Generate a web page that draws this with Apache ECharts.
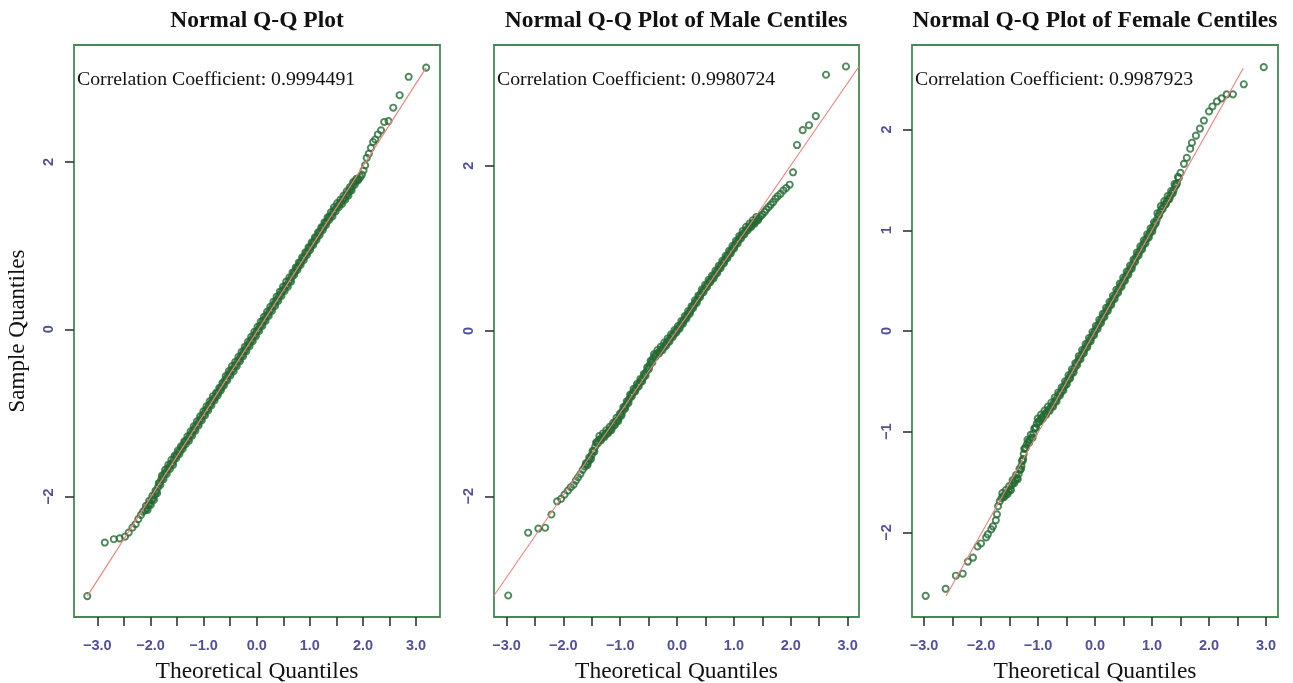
<!DOCTYPE html>
<html><head><meta charset="utf-8">
<script src="https://cdn.jsdelivr.net/npm/echarts@6/dist/echarts.min.js"></script>
<style>html,body{margin:0;padding:0;background:#fff}#c{width:1293px;height:683px}</style>
</head><body><div id="c"></div>
<script>
const panelTitles = ['Normal Q-Q Plot', 'Normal Q-Q Plot of Male Centiles', 'Normal Q-Q Plot of Female Centiles'];
const corrLabels = ['Correlation Coefficient: 0.9994491', 'Correlation Coefficient: 0.9980724', 'Correlation Coefficient: 0.9987923'];
const xTickValues = [-3, -2.5, -2, -1.5, -1, -0.5, 0, 0.5, 1, 1.5, 2, 2.5, 3];
const xLabelValues = [-3, -2, -1, 0, 1, 2, 3];
const yLabelValues1 = [-2, 0, 2];
const yLabelValues2 = [-2, 0, 2];
const yLabelValues3 = [-2, -1, 0, 1, 2];
const xName = 'Theoretical Quantiles';
const yName = 'Sample Quantiles';

// Panel 1: all centiles (theoretical, sample)
const qq1 = [
[-3.19,-3.19],[-2.86,-2.55],[-2.69,-2.51],[-2.58,-2.50],[-2.48,-2.48],[-2.41,-2.43],[-2.34,-2.37],[-2.28,-2.33],[-2.23,-2.27],[-2.18,-2.22],[-2.14,-2.18],
[-2.10,-2.16],[-2.07,-2.14],[-2.04,-2.10],[-2.01,-2.08],[-1.98,-2.04],[-1.95,-2.02],[-1.92,-1.98],[-1.89,-1.94],[-1.86,-1.89],[-1.83,-1.84],
[-1.80,-1.80],[-1.77,-1.77],[-1.74,-1.73],[-1.71,-1.71],[-1.68,-1.67],[-1.65,-1.65],[-1.62,-1.61],[-1.59,-1.60],[-1.56,-1.56],[-1.53,-1.52],
[-1.50,-1.50],[-1.47,-1.47],[-1.44,-1.45],[-1.41,-1.41],[-1.38,-1.39],[-1.35,-1.35],[-1.32,-1.33],[-1.29,-1.31],[-1.26,-1.27],[-1.23,-1.25],
[-1.20,-1.21],[-1.17,-1.19],[-1.14,-1.15],[-1.11,-1.13],[-1.08,-1.09],[-1.05,-1.07],[-1.02,-1.03],[-0.99,-1.01],[-0.96,-0.97],[-0.93,-0.95],
[-0.90,-0.91],[-0.87,-0.89],[-0.84,-0.85],[-0.81,-0.83],[-0.78,-0.81],[-0.75,-0.77],[-0.72,-0.75],[-0.69,-0.71],[-0.66,-0.69],[-0.63,-0.65],
[-0.60,-0.61],[-0.57,-0.59],[-0.54,-0.55],[-0.51,-0.53],[-0.48,-0.49],[-0.45,-0.48],[-0.42,-0.44],[-0.39,-0.42],[-0.36,-0.38],[-0.33,-0.36],
[-0.30,-0.32],[-0.27,-0.30],[-0.24,-0.26],[-0.21,-0.24],[-0.18,-0.20],[-0.15,-0.18],[-0.12,-0.14],[-0.09,-0.12],[-0.06,-0.08],[-0.03,-0.06],
[0.00,-0.02],[0.03,0.00],[0.06,0.04],[0.09,0.06],[0.12,0.10],[0.15,0.12],[0.18,0.16],[0.21,0.18],[0.24,0.22],[0.27,0.24],
[0.30,0.28],[0.33,0.30],[0.36,0.34],[0.39,0.36],[0.42,0.40],[0.45,0.42],[0.48,0.46],[0.51,0.48],[0.54,0.52],[0.57,0.53],
[0.60,0.57],[0.63,0.59],[0.66,0.63],[0.69,0.67],[0.72,0.69],[0.75,0.73],[0.78,0.75],[0.81,0.79],[0.84,0.81],[0.87,0.85],
[0.90,0.87],[0.93,0.91],[0.96,0.93],[0.99,0.97],[1.02,0.99],[1.05,1.03],[1.08,1.05],[1.11,1.09],[1.14,1.11],[1.17,1.15],
[1.20,1.17],[1.23,1.21],[1.26,1.23],[1.29,1.27],[1.32,1.29],[1.35,1.33],[1.38,1.35],[1.41,1.37],[1.44,1.41],[1.47,1.43],
[1.50,1.46],[1.53,1.48],[1.56,1.50],[1.59,1.52],[1.62,1.55],[1.65,1.57],[1.68,1.60],[1.71,1.62],[1.74,1.65],[1.77,1.68],
[1.80,1.71],[1.83,1.75],[1.86,1.77],[1.89,1.79],[1.92,1.80],[1.95,1.82],
[1.98,1.85],[2.01,1.90],[2.04,1.96],[2.07,2.05],[2.11,2.10],[2.15,2.17],[2.19,2.24],[2.23,2.27],[2.28,2.33],[2.34,2.38],
[2.40,2.48],[2.48,2.49],[2.57,2.65],[2.69,2.80],[2.86,3.02],[3.19,3.13]
];
// Panel 1: further points read inside the dense band
const qq1b = [
[-2.085,-2.11],[-2.055,-2.16],[-2.025,-2.05],[-1.995,-2.10],[-1.965,-1.99],[-1.935,-2.04],[-1.905,-1.93],[-1.875,-1.96],[-1.845,-1.84],[-1.815,-1.86],
[-1.785,-1.75],[-1.755,-1.79],[-1.725,-1.68],[-1.695,-1.73],[-1.665,-1.62],[-1.635,-1.67],[-1.605,-1.56],[-1.575,-1.62],[-1.545,-1.51],[-1.515,-1.54],
[-1.485,-1.45],[-1.455,-1.49],[-1.425,-1.40],[-1.395,-1.43],[-1.365,-1.34],[-1.335,-1.37],[-1.305,-1.28],[-1.275,-1.33],[-1.245,-1.22],[-1.215,-1.27],
[-1.185,-1.16],[-1.155,-1.21],[-1.125,-1.10],[-1.095,-1.15],[-1.065,-1.04],[-1.035,-1.09],[-1.005,-0.98],[-0.975,-1.03],[-0.945,-0.92],[-0.915,-0.97],
[-0.885,-0.86],[-0.855,-0.91],[-0.825,-0.80],[-0.795,-0.85],[-0.765,-0.76],[-0.735,-0.79],[-0.705,-0.70],[-0.675,-0.73],[-0.645,-0.64],[-0.615,-0.67],
[-0.585,-0.56],[-0.555,-0.61],[-0.525,-0.50],[-0.495,-0.55],[-0.465,-0.44],[-0.435,-0.50],[-0.405,-0.39],[-0.375,-0.44],[-0.345,-0.33],[-0.315,-0.38],
[-0.285,-0.27],[-0.255,-0.32],[-0.225,-0.21],[-0.195,-0.26],[-0.165,-0.15],[-0.135,-0.20],[-0.105,-0.09],[-0.075,-0.14],[-0.045,-0.03],[-0.015,-0.08],
[0.015,0.03],[0.045,-0.02],[0.075,0.09],[0.105,0.04],[0.135,0.15],[0.165,0.10],[0.195,0.21],[0.225,0.16],[0.255,0.27],[0.285,0.22],
[0.315,0.33],[0.345,0.28],[0.375,0.39],[0.405,0.34],[0.435,0.45],[0.465,0.40],[0.495,0.51],[0.525,0.46],[0.555,0.57],[0.585,0.51],
[0.615,0.62],[0.645,0.57],[0.675,0.68],[0.705,0.65],[0.735,0.74],[0.765,0.71],[0.795,0.80],[0.825,0.77],[0.855,0.86],[0.885,0.83],
[0.915,0.92],[0.945,0.89],[0.975,0.98],[1.005,0.95],[1.035,1.04],[1.065,1.01],[1.095,1.10],[1.125,1.07],[1.155,1.16],[1.185,1.13],
[1.215,1.22],[1.245,1.19],[1.275,1.28],[1.305,1.25],[1.335,1.34],[1.365,1.31],[1.395,1.40],[1.425,1.35],[1.455,1.46],[1.485,1.41],
[1.515,1.51],[1.545,1.46],[1.575,1.55],[1.605,1.50],[1.635,1.60],[1.665,1.55],[1.695,1.65],[1.725,1.60],[1.755,1.70],[1.785,1.66],
[1.815,1.76],[1.845,1.73],[1.875,1.80],[1.905,1.78]
];
// Panel 2: male centiles
const qq2 = [
[-2.97,-3.20],[-2.62,-2.44],[-2.44,-2.39],[-2.32,-2.38],[-2.21,-2.22],[-2.11,-2.06],[-2.04,-2.03],[-1.98,-1.98],[-1.92,-1.93],[-1.87,-1.89],
[-1.82,-1.86],[-1.78,-1.81],[-1.74,-1.77],[-1.70,-1.73],[-1.66,-1.68],
[-1.62,-1.64],[-1.59,-1.61],[-1.56,-1.58],[-1.53,-1.54],[-1.50,-1.50],[-1.47,-1.45],[-1.44,-1.40],[-1.41,-1.35],[-1.38,-1.32],[-1.35,-1.31],
[-1.32,-1.29],[-1.29,-1.27],[-1.26,-1.25],[-1.23,-1.23],[-1.20,-1.21],[-1.17,-1.19],[-1.14,-1.16],[-1.11,-1.13],[-1.08,-1.10],[-1.05,-1.08],
[-1.02,-1.05],[-0.99,-1.01],[-0.96,-0.97],[-0.93,-0.93],[-0.90,-0.90],[-0.87,-0.86],[-0.84,-0.82],[-0.81,-0.78],[-0.78,-0.75],[-0.75,-0.72],
[-0.72,-0.69],[-0.69,-0.66],[-0.66,-0.63],[-0.63,-0.60],[-0.60,-0.57],[-0.57,-0.53],[-0.54,-0.49],[-0.51,-0.45],[-0.48,-0.41],[-0.45,-0.37],
[-0.42,-0.33],[-0.39,-0.30],[-0.36,-0.28],[-0.33,-0.26],[-0.30,-0.24],[-0.27,-0.22],[-0.24,-0.19],[-0.21,-0.17],[-0.18,-0.14],[-0.15,-0.12],
[-0.12,-0.09],[-0.09,-0.06],[-0.06,-0.04],[-0.03,-0.01],[0.00,0.01],[0.03,0.04],[0.06,0.07],[0.09,0.10],[0.12,0.13],[0.15,0.16],
[0.18,0.19],[0.21,0.22],[0.24,0.25],[0.27,0.29],[0.30,0.32],[0.33,0.35],[0.36,0.38],[0.39,0.42],[0.42,0.45],[0.45,0.48],
[0.48,0.51],[0.51,0.54],[0.54,0.57],[0.57,0.60],[0.60,0.62],[0.63,0.65],[0.66,0.68],[0.69,0.71],[0.72,0.74],[0.75,0.77],
[0.78,0.80],[0.81,0.83],[0.84,0.86],[0.87,0.89],[0.90,0.92],[0.93,0.95],[0.96,0.98],[0.99,1.01],[1.02,1.04],[1.05,1.07],
[1.08,1.10],[1.11,1.13],[1.14,1.16],[1.17,1.18],[1.20,1.21],[1.23,1.23],[1.26,1.25],[1.29,1.27],[1.32,1.29],[1.35,1.31],
[1.38,1.33],[1.41,1.35],[1.44,1.37],
[1.47,1.39],[1.50,1.41],[1.54,1.44],[1.57,1.47],[1.61,1.50],[1.65,1.53],[1.69,1.56],[1.73,1.60],[1.77,1.63],[1.82,1.66],
[1.87,1.70],[1.92,1.73],[1.98,1.77],[2.04,1.92],[2.11,2.25],[2.21,2.43],[2.32,2.49],[2.44,2.60],[2.62,3.10],[2.97,3.20]
];
const qq2b = [
[-1.605,-1.60],[-1.575,-1.62],[-1.545,-1.53],[-1.515,-1.55],[-1.485,-1.45],[-1.455,-1.46],[-1.425,-1.35],[-1.395,-1.36],[-1.365,-1.27],[-1.335,-1.32],
[-1.305,-1.24],[-1.275,-1.28],[-1.245,-1.20],[-1.215,-1.24],[-1.185,-1.16],[-1.155,-1.20],[-1.125,-1.11],[-1.095,-1.14],[-1.065,-1.05],[-1.035,-1.09],
[-1.005,-1.00],[-0.975,-1.02],[-0.945,-0.92],[-0.915,-0.94],[-0.885,-0.85],[-0.855,-0.87],[-0.825,-0.77],[-0.795,-0.79],[-0.765,-0.70],[-0.735,-0.73],
[-0.705,-0.64],[-0.675,-0.67],[-0.645,-0.58],[-0.615,-0.61],[-0.585,-0.52],[-0.555,-0.54],[-0.525,-0.44],[-0.495,-0.46],[-0.465,-0.36],[-0.435,-0.38],
[-0.405,-0.28],[-0.375,-0.31],[-0.345,-0.23],[-0.315,-0.27],[-0.285,-0.19],[-0.255,-0.23],[-0.225,-0.14],[-0.195,-0.18],[-0.165,-0.09],[-0.135,-0.13],
[-0.105,-0.04],[-0.075,-0.07],[-0.045,0.01],[-0.015,-0.02],[0.015,0.06],[0.045,0.03],[0.075,0.12],[0.105,0.09],[0.135,0.18],[0.165,0.15],
[0.195,0.24],[0.225,0.21],[0.255,0.30],[0.285,0.28],[0.315,0.37],[0.345,0.34],[0.375,0.43],[0.405,0.41],[0.435,0.50],[0.465,0.47],
[0.495,0.56],[0.525,0.53],[0.555,0.62],[0.585,0.59],[0.615,0.67],[0.645,0.64],[0.675,0.73],[0.705,0.70],[0.735,0.79],[0.765,0.76],
[0.795,0.85],[0.825,0.82],[0.855,0.91],[0.885,0.88],[0.915,0.97],[0.945,0.94],[0.975,1.03],[1.005,1.00],[1.035,1.09],[1.065,1.06],
[1.095,1.15],[1.125,1.12],[1.155,1.21],[1.185,1.17],[1.215,1.26],[1.245,1.22],[1.275,1.30],[1.305,1.26],[1.335,1.34],[1.365,1.30],
[1.395,1.38],[1.425,1.34]
];
// Panel 3: female centiles
const qq3 = [
[-2.97,-2.63],[-2.62,-2.56],[-2.44,-2.43],[-2.32,-2.41],[-2.23,-2.29],[-2.14,-2.25],[-2.06,-2.14],[-2.00,-2.11],[-1.91,-2.05],[-1.88,-2.02],
[-1.82,-1.97],[-1.79,-1.94],[-1.74,-1.88],[-1.72,-1.82],[-1.70,-1.74],[-1.67,-1.69],
[-1.64,-1.66],[-1.61,-1.64],[-1.58,-1.63],[-1.55,-1.61],[-1.52,-1.59],[-1.49,-1.57],[-1.46,-1.53],[-1.43,-1.50],[-1.40,-1.48],[-1.37,-1.46],
[-1.34,-1.42],[-1.31,-1.38],[-1.29,-1.34],[-1.27,-1.29],[-1.25,-1.22],[-1.23,-1.17],[-1.20,-1.13],[-1.17,-1.10],[-1.14,-1.08],[-1.11,-1.06],
[-1.08,-1.02],[-1.05,-0.96],[-1.02,-0.92],[-0.99,-0.90],[-0.96,-0.88],[-0.93,-0.86],[-0.90,-0.84],[-0.87,-0.82],[-0.84,-0.80],[-0.81,-0.78],
[-0.78,-0.76],[-0.75,-0.74],[-0.72,-0.71],[-0.69,-0.69],[-0.66,-0.66],[-0.63,-0.63],[-0.60,-0.61],[-0.57,-0.58],[-0.54,-0.55],[-0.51,-0.52],
[-0.48,-0.49],[-0.45,-0.46],[-0.42,-0.43],[-0.39,-0.40],[-0.36,-0.37],[-0.33,-0.33],[-0.30,-0.30],[-0.27,-0.27],[-0.24,-0.24],[-0.21,-0.21],
[-0.18,-0.18],[-0.15,-0.15],[-0.12,-0.12],[-0.09,-0.09],[-0.06,-0.06],[-0.03,-0.03],[0.00,0.00],[0.03,0.03],[0.06,0.06],[0.09,0.09],
[0.12,0.12],[0.15,0.15],[0.18,0.18],[0.21,0.21],[0.24,0.24],[0.27,0.27],[0.30,0.30],[0.33,0.33],[0.36,0.36],[0.39,0.39],
[0.42,0.42],[0.45,0.45],[0.48,0.48],[0.51,0.51],[0.54,0.54],[0.57,0.57],[0.60,0.60],[0.63,0.63],[0.66,0.66],[0.69,0.70],
[0.72,0.73],[0.75,0.76],[0.78,0.79],[0.81,0.82],[0.84,0.85],[0.87,0.88],[0.90,0.91],[0.93,0.94],[0.96,0.97],[0.99,1.00],
[1.02,1.03],[1.05,1.06],[1.08,1.10],[1.11,1.14],[1.14,1.18],[1.17,1.21],[1.20,1.24],[1.23,1.26],[1.26,1.29],[1.29,1.31],
[1.32,1.34],[1.35,1.37],[1.38,1.40],[1.41,1.44],[1.44,1.47],[1.47,1.52],[1.50,1.57],
[1.56,1.66],[1.61,1.72],[1.67,1.81],[1.70,1.87],[1.77,1.94],[1.84,2.01],[1.91,2.09],[2.00,2.18],[2.06,2.23],[2.14,2.28],
[2.22,2.31],[2.31,2.35],[2.42,2.35],[2.61,2.45],[2.96,2.62]
];
const qq3b = [
[-1.625,-1.61],[-1.595,-1.65],[-1.565,-1.58],[-1.535,-1.62],[-1.505,-1.54],[-1.475,-1.58],[-1.445,-1.48],[-1.415,-1.51],[-1.385,-1.43],[-1.355,-1.47],
[-1.325,-1.37],[-1.300,-1.37],[-1.280,-1.29],[-1.260,-1.27],[-1.240,-1.17],[-1.215,-1.16],[-1.185,-1.08],[-1.155,-1.11],[-1.125,-1.03],[-1.095,-1.06],
[-1.065,-0.97],[-1.035,-0.96],[-1.005,-0.87],[-0.975,-0.90],[-0.945,-0.83],[-0.915,-0.87],[-0.885,-0.79],[-0.855,-0.83],[-0.825,-0.75],[-0.795,-0.79],
[-0.765,-0.71],[-0.735,-0.75],[-0.705,-0.66],[-0.675,-0.70],[-0.645,-0.61],[-0.615,-0.64],[-0.585,-0.56],[-0.555,-0.59],[-0.525,-0.50],[-0.495,-0.53],
[-0.465,-0.44],[-0.435,-0.47],[-0.405,-0.38],[-0.375,-0.41],[-0.345,-0.32],[-0.315,-0.34],[-0.285,-0.25],[-0.255,-0.28],[-0.225,-0.19],[-0.195,-0.22],
[-0.165,-0.13],[-0.135,-0.16],[-0.105,-0.07],[-0.075,-0.10],[-0.045,-0.01],[-0.015,-0.04],[0.015,0.05],[0.045,0.02],[0.075,0.11],[0.105,0.08],
[0.135,0.17],[0.165,0.14],[0.195,0.23],[0.225,0.20],[0.255,0.29],[0.285,0.26],[0.315,0.35],[0.345,0.32],[0.375,0.41],[0.405,0.38],
[0.435,0.47],[0.465,0.44],[0.495,0.53],[0.525,0.50],[0.555,0.59],[0.585,0.56],[0.615,0.65],[0.645,0.62],[0.675,0.71],[0.705,0.69],
[0.735,0.78],[0.765,0.75],[0.795,0.84],[0.825,0.81],[0.855,0.90],[0.885,0.87],[0.915,0.96],[0.945,0.93],[0.975,1.02],[1.005,0.99],
[1.035,1.08],[1.065,1.07],[1.095,1.17],[1.125,1.15],[1.155,1.24],[1.185,1.21],[1.215,1.29],[1.245,1.26],[1.275,1.34],[1.305,1.31],
[1.335,1.39],[1.365,1.37],[1.395,1.46],[1.425,1.45],[1.455,1.53]
];
// Reference (qqline) end points
const ref1 = [[-3.19,-3.19],[3.19,3.13]];
const ref2 = [[-3.22,-3.20],[3.20,3.20]];
const ref3 = [[-2.61,-2.63],[2.60,2.61]];

const xRanges = [[-3.44,3.45],[-3.22,3.20],[-3.21,3.21]];
const yRanges = [[-3.44,3.40],[-3.46,3.46],[-2.84,2.84]];

const gridBoxes = [{left:74,width:366},{left:494,width:365},{left:912,width:366}];
const titleCenters = [257, 676, 1095];

const chart = echarts.init(document.getElementById('c'), null, {renderer:'canvas'});
const minus = v => (v < 0 ? '\u2212' : '') + Math.abs(v);
const grids = [], xAxes = [], yAxes = [], series = [], titles = [];
const yLabelSets = [yLabelValues1, yLabelValues2, yLabelValues3];
const qqSets = [qq1.concat(qq1b), qq2.concat(qq2b), qq3.concat(qq3b)];
const refSets = [ref1, ref2, ref3];
for (let i = 0; i < 3; i++) {
  grids.push({left:gridBoxes[i].left, width:gridBoxes[i].width, top:45, height:572, show:true,
    outerBoundsMode:'none', containLabel:false,
    borderColor:'#458a56', borderWidth:1.8, backgroundColor:'rgba(0,0,0,0)'});
  xAxes.push({gridIndex:i, type:'value', min:xRanges[i][0], max:xRanges[i][1],
    axisLine:{show:false, onZero:false}, splitLine:{show:false},
    axisTick:{show:true, length:9, customValues:xTickValues, lineStyle:{color:'#333', width:1.6}},
    axisLabel:{customValues:xLabelValues, formatter: v => (v < 0 ? '\u2212' : '') + Math.abs(v).toFixed(1),
      color:'#50509c', fontFamily:'Liberation Sans', fontWeight:'bold', fontSize:14.5, margin:21},
    name:xName, nameLocation:'middle', nameGap:43,
    nameTextStyle:{fontFamily:'Liberation Serif', fontSize:23.5, color:'#111'}});
  const ya = {gridIndex:i, type:'value', min:yRanges[i][0], max:yRanges[i][1],
    axisLine:{show:false, onZero:false}, splitLine:{show:false},
    axisTick:{show:true, length:9, customValues:yLabelSets[i], lineStyle:{color:'#333', width:1.6}},
    axisLabel:{customValues:yLabelSets[i], formatter: minus, rotate:90,
      color:'#50509c', fontFamily:'Liberation Sans', fontWeight:'bold', fontSize:14.5, margin:18}};
  if (i === 0) {
    ya.name = yName; ya.nameLocation = 'middle'; ya.nameGap = 45;
    ya.nameTextStyle = {fontFamily:'Liberation Serif', fontSize:23, color:'#111'};
  }
  yAxes.push(ya);
  series.push({type:'scatter', xAxisIndex:i, yAxisIndex:i, data:qqSets[i], symbol:'circle', symbolSize:6.2,
    itemStyle:{color:'rgba(0,0,0,0)', borderColor:'#236b33', borderWidth:1.9}, z:2, silent:true});
  series.push({type:'line', xAxisIndex:i, yAxisIndex:i, data:refSets[i], symbol:'none', clip:true,
    lineStyle:{color:'#f2807a', width:1.1}, z:3, silent:true});
  titles.push({text:panelTitles[i], left:titleCenters[i], top:9, textAlign:'center', padding:0,
    textStyle:{fontFamily:'Liberation Serif', fontWeight:'bold', fontSize:23.5, color:'#111'}});
  titles.push({text:corrLabels[i], left:gridBoxes[i].left + 3, top:70, padding:0,
    textStyle:{fontFamily:'Liberation Serif', fontWeight:'normal', fontSize:19.8, color:'#111'}});
}
chart.setOption({animation:false, backgroundColor:'#fff', title:titles, grid:grids, xAxis:xAxes, yAxis:yAxes, series:series});
</script>
</body></html>
